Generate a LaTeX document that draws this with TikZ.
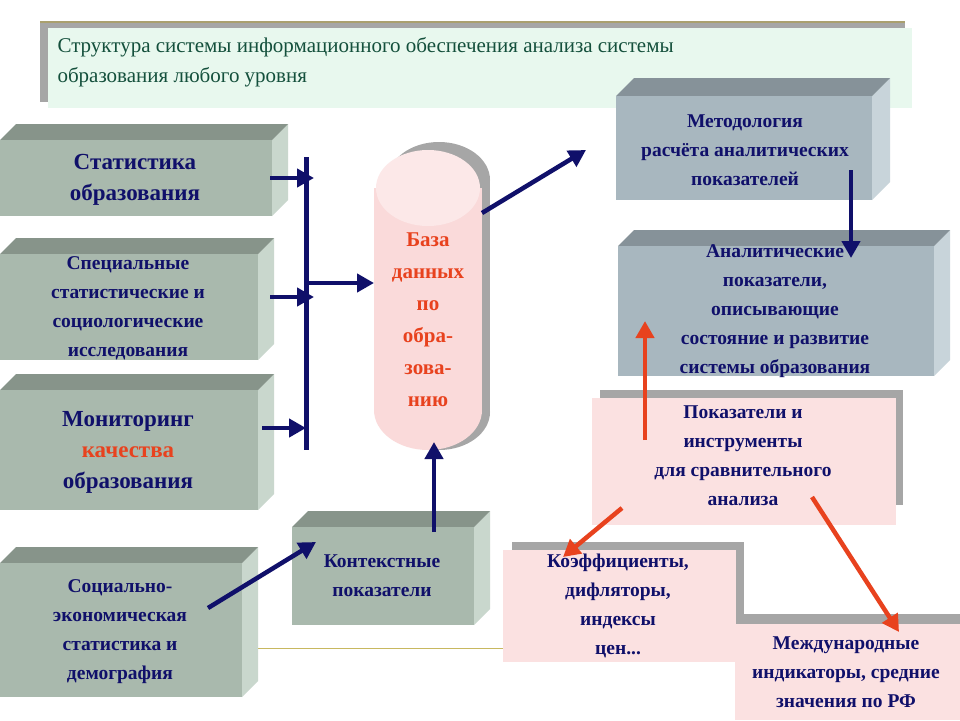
\documentclass[tikz,border=0pt]{standalone}
\usepackage{fontspec}
\setmainfont{Liberation Serif}
\usetikzlibrary{arrows.meta}
\definecolor{navy}{HTML}{10106A}
\definecolor{tred}{HTML}{E8421E}
\definecolor{gfront}{HTML}{A9B9AD}
\definecolor{gtop}{HTML}{8E9B92}
\definecolor{gside}{HTML}{C9D7CD}
\definecolor{bfront}{HTML}{A8B7BF}
\definecolor{btop}{HTML}{8C9AA1}
\definecolor{bside}{HTML}{C8D4DA}
\definecolor{pinkf}{HTML}{FBE1E1}
\definecolor{cylb}{HTML}{FADADA}
\definecolor{cylt}{HTML}{FCE8E8}
\definecolor{shad}{HTML}{A6A6A6}
\tikzset{
 txt/.style={text=navy, align=center},
 bx/.style={font=\bfseries\fontsize{19.5}{29}\selectfont},
 narr/.style={draw=navy, line width=4.5pt, -{Triangle[length=17pt,width=18pt]}},
 rarr/.style={draw=tred, line width=4.5pt, -{Triangle[length=17pt,width=18pt]}},
}
\newcommand{\boxthree}[7]{%
 \fill[#7] (#3,#2) -- (#3+#5,#2-#5) -- (#3+#5,#4-#5) -- (#3,#4) -- cycle;
 \fill[#6!80!black] (#1,#2) -- (#1+#5,#2-#5) -- (#3+#5,#2-#5) -- (#3,#2) -- cycle;
 \fill[#6] (#1,#2) rectangle (#3,#4);}
\begin{document}
\begin{tikzpicture}[x=1pt,y=-1pt]
\useasboundingbox (0,0) rectangle (960,720);
\fill[white] (0,0) rectangle (960,720);
% title
\fill[shad] (40,22) rectangle (905,102);
\draw[color={rgb,255:red,170;green,160;blue,110}, line width=2pt] (40,22) -- (905,22);
\fill[color={rgb,255:red,232;green,248;blue,238}] (48,28) rectangle (912,108);
\node[anchor=north west, align=left, text={rgb,255:red,20;green,80;blue,60}, font=\fontsize{21}{30}\selectfont] (title) at (54,34) {Структура системы информационного обеспечения анализа системы\\образования любого уровня};
\draw[color={rgb,255:red,200;green,184;blue,96}] (258,648) -- (503,648);
% left boxes
\boxthree{0}{140}{272}{216}{16}{gfront}{gside}
\node[txt, font=\bfseries\fontsize{23}{31}\selectfont] (stat) at (135,180) {Статистика\\образования};
\boxthree{0}{254}{258}{360}{16}{gfront}{gside}
\node[txt, bx] (spec) at (128,308) {Специальные\\статистические и\\социологические\\исследования};
\boxthree{0}{390}{258}{510}{16}{gfront}{gside}
\node[txt, font=\bfseries\fontsize{23}{31}\selectfont] (mon) at (128,452) {Мониторинг\\\textcolor{tred}{качества}\\образования};
\boxthree{0}{563}{242}{697}{16}{gfront}{gside}
\node[txt, bx] (soc) at (120,632) {Социально-\\экономическая\\статистика и\\демография};
\boxthree{292}{527}{474}{625}{16}{gfront}{gside}
\node[txt, bx] (kont) at (382,576) {Контекстные\\показатели};
% right boxes
\boxthree{616}{96}{872}{200}{18}{bfront}{bside}
\node[txt, bx] (meth) at (745,150) {Методология\\расчёта аналитических\\показателей};
\boxthree{618}{246}{934}{376}{16}{bfront}{bside}
\node[txt, bx] (anal) at (775,311) {Аналитические\\показатели,\\описывающие\\состояние и развитие\\системы образования};
% pink boxes
\fill[shad] (600,390) rectangle (903,505);
\fill[pinkf] (592,398) rectangle (896,525);
\node[txt, bx] (pok) at (743,456) {Показатели и\\инструменты\\для сравнительного\\анализа};
\fill[shad] (512,542) rectangle (744,640);
\fill[pinkf] (503,550) rectangle (736,662);
\node[txt, bx] (koef) at (618,606) {Коэффициенты,\\дифляторы,\\индексы\\цен...};
\fill[shad] (743,614) rectangle (960,720);
\fill[pinkf] (735,624) rectangle (960,720);
\node[txt, bx] (mezh) at (846,672) {Международные\\индикаторы, средние\\значения по РФ};
% cylinder
\fill[shad] (388,180) rectangle (490,412);
\fill[shad] (439,180) ellipse[x radius=51,y radius=38];
\fill[shad] (439,412) ellipse[x radius=51,y radius=38];
\fill[cylb] (374,188) rectangle (482,410);
\fill[cylb] (428,410) ellipse[x radius=54,y radius=40];
\fill[cylt] (428,188) ellipse[x radius=52,y radius=38];
\node[txt, text=tred, font=\bfseries\fontsize{21}{32}\selectfont] (db) at (428,320) {База\\данных\\по\\обра-\\зова-\\нию};
\coordinate (cyl) at (374,283);
% connectors
\coordinate (bt) at (306,157); \coordinate (bb) at (306,450);
\draw[navy, line width=5pt] (bt) -- (bb);
\coordinate (b1) at (314,178); \coordinate (b2) at (314,297); \coordinate (b3) at (306,428); \coordinate (bm) at (306,283);
\coordinate (s1) at (270,178); \coordinate (s2) at (270,297); \coordinate (s3) at (262,428);
\draw[narr] (s1) -- (b1);
\draw[narr] (s2) -- (b2);
\draw[narr] (s3) -- (b3);
\draw[narr] (bm) -- (cyl);
\draw[narr] (434,532) -- (434,442);
\draw[narr] (482,213) -- (586,150);
\draw[narr] (851,170) -- (851,258);
\draw[narr] (208,608) -- (316,542);
\draw[rarr] (645,440) -- (645,321);
\draw[rarr] (622,508) -- (563,557);
\draw[rarr] (812,497) -- (899,632);
\end{tikzpicture}
\end{document}
